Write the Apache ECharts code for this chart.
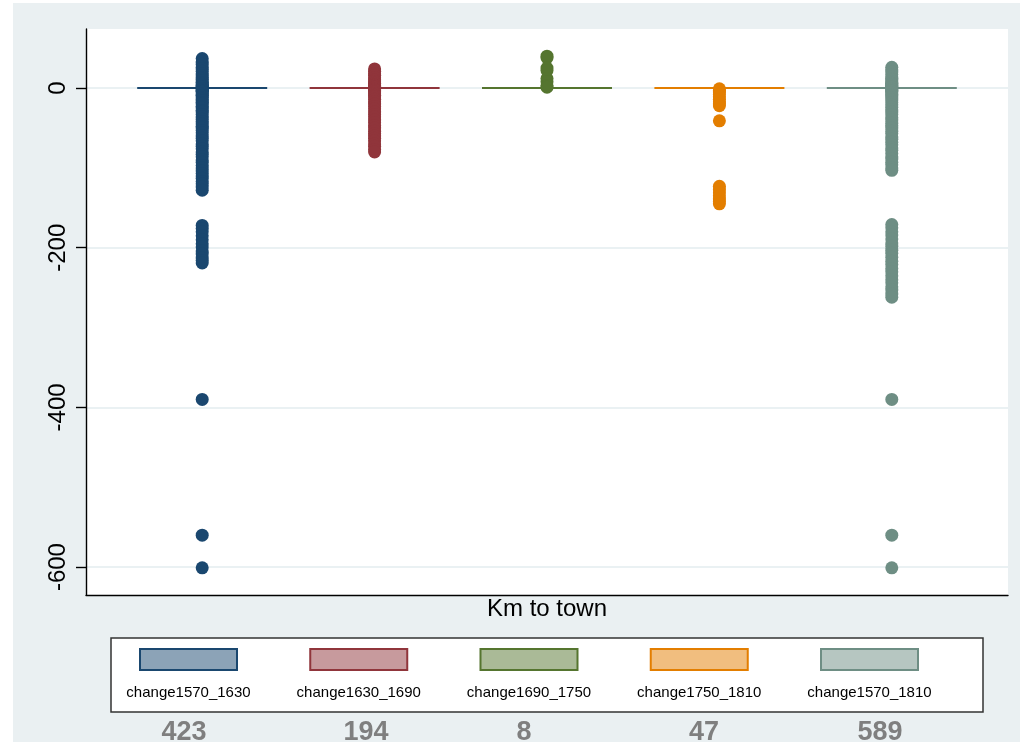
<!DOCTYPE html>
<html>
<head>
<meta charset="utf-8">
<script src="https://cdn.jsdelivr.net/npm/echarts@6/dist/echarts.min.js"></script>
<style>
  html, body { margin: 0; padding: 0; background: #ffffff; }
  #chart { width: 1020px; height: 742px; }
</style>
</head>
<body>
<div id="chart"></div>
<script>
// Variables shown as boxes, one per period
const categories = ['change1570_1630', 'change1630_1690', 'change1690_1750', 'change1750_1810', 'change1570_1810'];

// Number of observations printed under each legend key
const obsCounts = ['423', '194', '8', '47', '589'];

// Y axis tick values
const yTicks = [0, -200, -400, -600];

// Box statistics [lower whisker, Q1, median, Q3, upper whisker]; all collapse to zero
const boxStats = [
  [0, 0, 0, 0, 0],
  [0, 0, 0, 0, 0],
  [0, 0, 0, 0, 0],
  [0, 0, 0, 0, 0],
  [0, 0, 0, 0, 0]
];

// Outside values for each variable
const out1570_1630 = [37, 33, 30, 26, 24, 21, 18, 15, 13, 11, 9, 7, 5, 4, 3, 2, 1, -1, -2, -3, -4, -5, -7, -9, -10, -12,
  -14, -16, -18, -20, -23, -25, -28, -30, -33, -36, -39, -42, -45, -48, -50, -53, -56, -60, -63, -66, -70, -73, -76,
  -80, -83, -86, -90, -93, -97, -100, -104, -107, -110, -113, -117, -120, -124, -128,
  -172, -176, -180, -185, -190, -195, -199, -204, -208, -213, -216, -219,
  -390, -560, -601];
const out1630_1690 = [24, 21, 18, 16, 13, 10, 8, 6, 4, 3, 2, 1, -1, -2, -3, -5, -7, -9, -11, -14, -17, -20, -23, -26,
  -30, -33, -36, -40, -43, -47, -50, -54, -57, -60, -63, -66, -70, -73, -77, -80];
const out1690_1750 = [40, 38, 25, 22, 12, 8, 3, 1];
const out1750_1810 = [-1, -3, -5, -8, -11, -14, -17, -20, -22, -41, -123, -127, -131, -135, -139, -142, -145];
const out1570_1810 = [26, 23, 20, 17, 14, 12, 10, 8, 6, 5, 4, 3, 2, 1, -1, -2, -3, -4, -6, -8, -10, -12, -15, -18, -21,
  -24, -27, -30, -33, -37, -40, -44, -47, -50, -54, -57, -61, -64, -68, -71, -75, -78, -82, -86, -89, -93, -96, -100, -103,
  -171, -175, -180, -184, -189, -194, -198, -203, -207, -212, -217, -221, -226, -230, -235, -240, -244, -249, -253, -258, -262,
  -390, -560, -601];

const outsideValues = [out1570_1630, out1630_1690, out1690_1750, out1750_1810, out1570_1810];

// Stata s2color palette: line colours and lighter box fills
const lineColors = ['#1a476f', '#90353b', '#55752f', '#e37e00', '#6e8e84'];
const fillColors = ['#8ca3b7', '#c79a9d', '#aaba97', '#f1be7f', '#b6c6c1'];

const Y_MIN = -635, Y_MAX = 74;
const FONT = '"Liberation Sans", Arial, sans-serif';

// Legend layout
const legendBox = { x: 111, y: 638, w: 872, h: 74 };
const keyLeft = 140, keyStep = 170.25, keyW = 97, keyH = 21, keyTop = 649, keyLabelY = 693;
const countX = [184, 366, 524, 704, 880];
const countY = 733;

const graphics = [
  // white page margin left of and above the graph region
  { type: 'rect', shape: { x: 0, y: 0, width: 13, height: 742 }, style: { fill: '#ffffff' }, silent: true },
  { type: 'rect', shape: { x: 0, y: 0, width: 1020, height: 3 }, style: { fill: '#ffffff' }, silent: true },
  // legend frame
  { type: 'rect', shape: { x: legendBox.x, y: legendBox.y, width: legendBox.w, height: legendBox.h },
    style: { fill: '#ffffff', stroke: '#333333', lineWidth: 1.5 }, silent: true }
];

categories.forEach((name, i) => {
  const left = keyLeft + i * keyStep;
  graphics.push({
    type: 'rect', shape: { x: left, y: keyTop, width: keyW, height: keyH },
    style: { fill: fillColors[i], stroke: lineColors[i], lineWidth: 2 }, silent: true
  });
  graphics.push({
    type: 'text', x: left + keyW / 2, y: keyLabelY,
    style: { text: name, fill: '#000000', font: '15px ' + FONT, align: 'center', verticalAlign: 'middle' }, silent: true
  });
  graphics.push({
    type: 'text', x: countX[i], y: countY,
    style: { text: obsCounts[i], fill: '#7f7f7f', font: 'bold 27px "Liberation Sans Narrow", ' + FONT,
      align: 'center', verticalAlign: 'middle' }, silent: true
  });
});

const series = [{
  type: 'boxplot',
  xAxisIndex: 1,
  yAxisIndex: 1,
  boxWidth: [130, 130],
  silent: true,
  z: 2,
  itemStyle: { borderWidth: 2 },
  emphasis: { disabled: true },
  data: boxStats.map((d, i) => ({ value: d, itemStyle: { color: fillColors[i], borderColor: lineColors[i], borderWidth: 2 } }))
}];

outsideValues.forEach((vals, i) => {
  series.push({
    type: 'scatter',
    name: categories[i],
    xAxisIndex: 1,
    yAxisIndex: 1,
    symbol: 'circle',
    symbolSize: 13,
    silent: true,
    z: 3,
    itemStyle: { color: lineColors[i], opacity: 1 },
    emphasis: { disabled: true },
    data: vals.map(v => [i, v])
  });
});

const chart = echarts.init(document.getElementById('chart'), null, { renderer: 'canvas' });
chart.setOption({
  animation: false,
  backgroundColor: '#eaf0f2',
  graphic: { elements: graphics },
  grid: [
    { left: 86, right: 12, top: 29, bottom: 147, show: true, backgroundColor: '#ffffff', borderWidth: 0, outerBoundsMode: 'none', containLabel: false },
    { left: 116, right: 42, top: 29, bottom: 147, outerBoundsMode: 'none', containLabel: false }
  ],
  xAxis: [
    {
      gridIndex: 0, type: 'value', min: 0, max: 1,
      axisLine: { show: true, onZero: false, lineStyle: { color: '#000000', width: 1.4 } },
      axisTick: { show: false }, axisLabel: { show: false }, splitLine: { show: false },
      name: 'Km to town', nameLocation: 'middle', nameGap: 2,
      nameTextStyle: { fontSize: 24, fontFamily: FONT, color: '#000000', verticalAlign: 'top' }
    },
    { gridIndex: 1, type: 'category', data: categories, show: false }
  ],
  yAxis: [
    {
      gridIndex: 0, type: 'value', min: Y_MIN, max: Y_MAX,
      axisLine: { show: true, lineStyle: { color: '#000000', width: 1.4 } },
      axisTick: { show: true, length: 10, lineStyle: { color: '#000000', width: 1.4 }, customValues: yTicks },
      axisLabel: { show: true, customValues: yTicks, rotate: 90, margin: 16, fontSize: 24, fontFamily: FONT, color: '#000000' },
      splitLine: { show: true, lineStyle: { color: '#eaf1f3', width: 2 } }
    },
    { gridIndex: 1, type: 'value', min: Y_MIN, max: Y_MAX, show: false, splitLine: { show: false } }
  ],
  series: series
});
</script>
</body>
</html>
